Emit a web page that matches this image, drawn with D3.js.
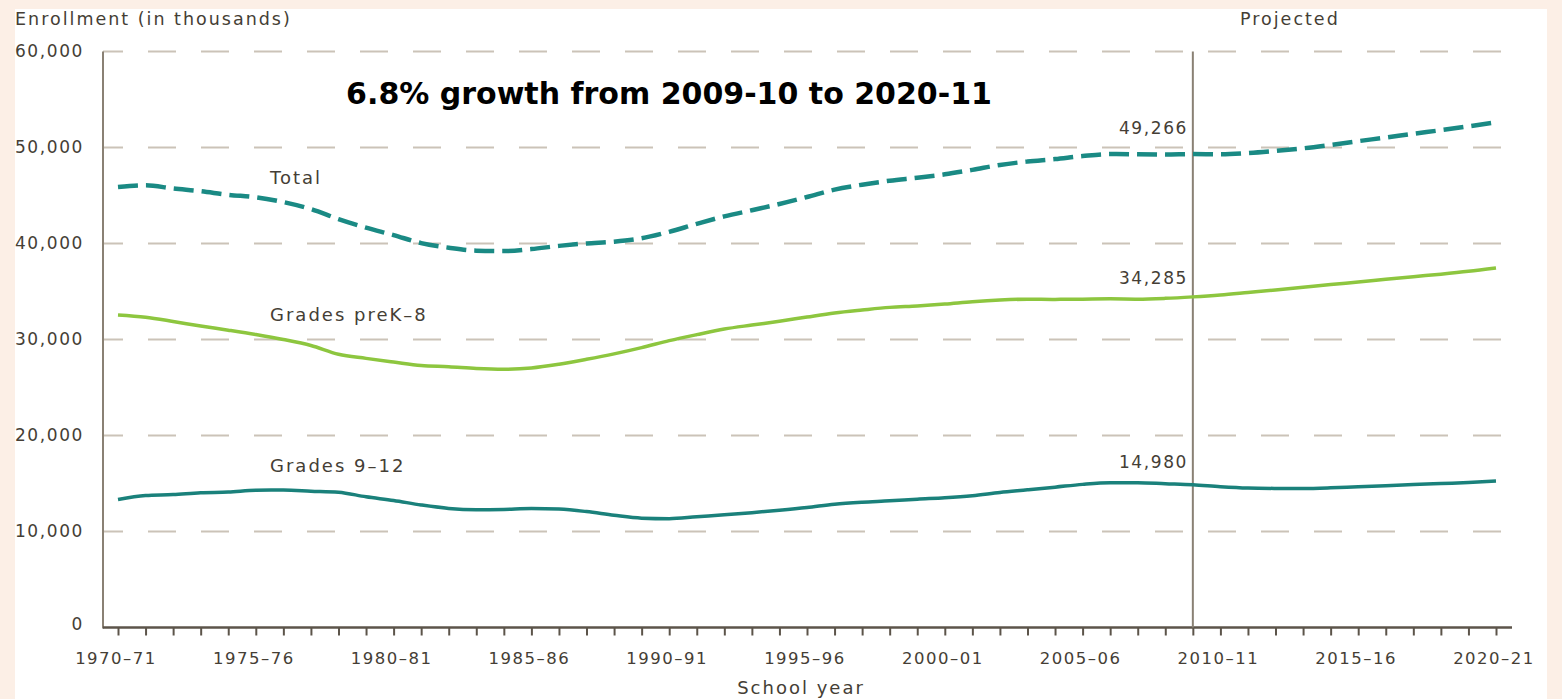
<!DOCTYPE html>
<html>
<head>
<meta charset="utf-8">
<script src="https://cdn.jsdelivr.net/npm/d3@7.9.0/dist/d3.min.js"></script>
<style>
  html, body { margin: 0; padding: 0; background: #fcefe6; }
  svg { display: block; }
  text { font-family: "DejaVu Sans", sans-serif; fill: #453e35; }
</style>
</head>
<body>
<svg id="chart" width="1562" height="699"></svg>
<script>
// school years, by starting year (1970 = 1970-71)
const years = d3.range(1970, 2021);

// enrollment in thousands
const totalValues = [
  45894, 46071, 45726, 45445, 45073, 44819, 44311, 43577, 42551, 41651,
  40877, 40044, 39566, 39252, 39208, 39422, 39753, 40008, 40189, 40543,
  41217, 42047, 42823, 43465, 44111, 44840, 45611, 46127, 46539, 46857,
  47204, 47672, 48183, 48540, 48795, 49113, 49316, 49293, 49266, 49312,
  49306, 49422, 49642, 49914, 50268, 50659, 51038, 51430, 51803, 52200,
  52620
];
const preK8Values = [
  32558, 32318, 31879, 31401, 30971, 30515, 29997, 29375, 28463, 28034,
  27647, 27280, 27161, 26981, 26905, 27034, 27420, 27933, 28501, 29152,
  29878, 30506, 31088, 31504, 31898, 32341, 32764, 33073, 33346, 33488,
  33686, 33936, 34114, 34201, 34178, 34204, 34235, 34205, 34285, 34440,
  34637, 34892, 35153, 35436, 35723, 35994, 36273, 36547, 36808, 37100,
  37450
];
const grade912Values = [
  13336, 13753, 13848, 14044, 14103, 14304, 14314, 14203, 14088, 13616,
  13231, 12764, 12405, 12271, 12304, 12388, 12333, 12076, 11687, 11390,
  11338, 11541, 11735, 11961, 12213, 12500, 12847, 13054, 13193, 13369,
  13517, 13736, 14069, 14339, 14618, 14909, 15081, 15087, 14980, 14872,
  14669, 14530, 14489, 14478, 14545, 14665, 14765, 14883, 14995, 15100,
  15250
];

const tickYears = [1970, 1975, 1980, 1985, 1990, 1995, 2000, 2005, 2010, 2015, 2020];
const tickLabels = ["1970–71", "1975–76", "1980–81", "1985–86", "1990–91", "1995–96",
  "2000–01", "2005–06", "2010–11", "2015–16", "2020–21"];
const yTicks = [0, 10000, 20000, 30000, 40000, 50000, 60000];
const projectionStart = 2009;

const svg = d3.select("#chart");

// white panel
svg.append("rect").attr("x", 15).attr("y", 9).attr("width", 1532).attr("height", 690).attr("fill", "#ffffff");

const x = d3.scaleLinear().domain([1970, 2020]).range([118, 1496]);
const y = d3.scaleLinear().domain([0, 60000]).range([627.5, 51.5]);
const axisLeft = 103, axisRight = 1512;

// gridlines
svg.append("g").selectAll("line")
  .data(yTicks.filter(d => d > 0))
  .join("line")
  .attr("x1", axisLeft).attr("x2", 1518)
  .attr("y1", d => y(d)).attr("y2", d => y(d))
  .attr("stroke", "#cbc3b8").attr("stroke-width", 2)
  .attr("stroke-dasharray", "28,25").attr("stroke-dashoffset", 8);

// y tick labels
svg.append("g").selectAll("text")
  .data(yTicks)
  .join("text")
  .attr("x", 84).attr("y", d => y(d) + (d === 0 ? -3 : 0))
  .attr("dy", "0.35em")
  .attr("text-anchor", "end")
  .attr("font-size", 17).attr("letter-spacing", 1.6)
  .text(d => d3.format(",")(d));

// x axis ticks
const xAxis = d3.axisBottom(x)
  .tickValues(years)
  .tickSize(8)
  .tickFormat(() => "");
const gx = svg.append("g").attr("transform", `translate(0,${y(0)})`).call(xAxis);
gx.select(".domain").remove();
gx.selectAll(".tick line").attr("stroke", "#5c544a").attr("stroke-width", 2);

svg.append("g").selectAll("text")
  .data(tickYears)
  .join("text")
  .attr("x", (d, i) => x(d) - 2).attr("y", 664)
  .attr("text-anchor", "middle")
  .attr("font-size", 16.5).attr("letter-spacing", 1.5)
  .text((d, i) => tickLabels[i]);

// axis lines
svg.append("line").attr("x1", axisLeft).attr("x2", axisLeft).attr("y1", y(60000)).attr("y2", y(0) + 1)
  .attr("stroke", "#8a8174").attr("stroke-width", 2);
svg.append("line").attr("x1", axisLeft).attr("x2", axisRight).attr("y1", y(0)).attr("y2", y(0))
  .attr("stroke", "#5c544a").attr("stroke-width", 2.5);

// projection divider
svg.append("line")
  .attr("x1", x(projectionStart)).attr("x2", x(projectionStart))
  .attr("y1", y(60000)).attr("y2", y(0))
  .attr("stroke", "#8a8174").attr("stroke-width", 2);

// series
const line = d3.line().x((d, i) => x(years[i])).y(d => y(d)).curve(d3.curveMonotoneX);

svg.append("path").attr("d", line(grade912Values))
  .attr("fill", "none").attr("stroke", "#1a817b").attr("stroke-width", 3.5);
svg.append("path").attr("d", line(preK8Values))
  .attr("fill", "none").attr("stroke", "#8dc63f").attr("stroke-width", 3.5);
svg.append("path").attr("d", line(totalValues))
  .attr("fill", "none").attr("stroke", "#1a8a84").attr("stroke-width", 4.5)
  .attr("stroke-dasharray", "20,8");

// labels
const lab = (tx, ty, str, anchor, size, sp) => svg.append("text")
  .attr("x", tx).attr("y", ty).attr("text-anchor", anchor || "start")
  .attr("font-size", size || 18).attr("letter-spacing", sp == null ? 2 : sp).text(str);

lab(15, 25, "Enrollment (in thousands)", "start", 17.5, 2);
lab(1240, 25, "Projected", "start", 17.5, 2);
lab(270, 184, "Total");
lab(270, 321, "Grades preK–8");
lab(270, 472, "Grades 9–12");
lab(1188, 134, d3.format(",")(totalValues[38]), "end", 17, 1.6);
lab(1188, 284, d3.format(",")(preK8Values[38]), "end", 17, 1.6);
lab(1188, 468, d3.format(",")(grade912Values[38]), "end", 17, 1.6);
lab(801, 694, "School year", "middle", 18, 2);

svg.append("text")
  .attr("x", 669).attr("y", 104)
  .attr("text-anchor", "middle")
  .attr("font-family", "'Liberation Sans', Arial, sans-serif")
  .attr("font-weight", "bold").attr("font-size", 30)
  .style("fill", "#000")
  .text("6.8% growth from 2009-10 to 2020-11");
</script>
</body>
</html>
